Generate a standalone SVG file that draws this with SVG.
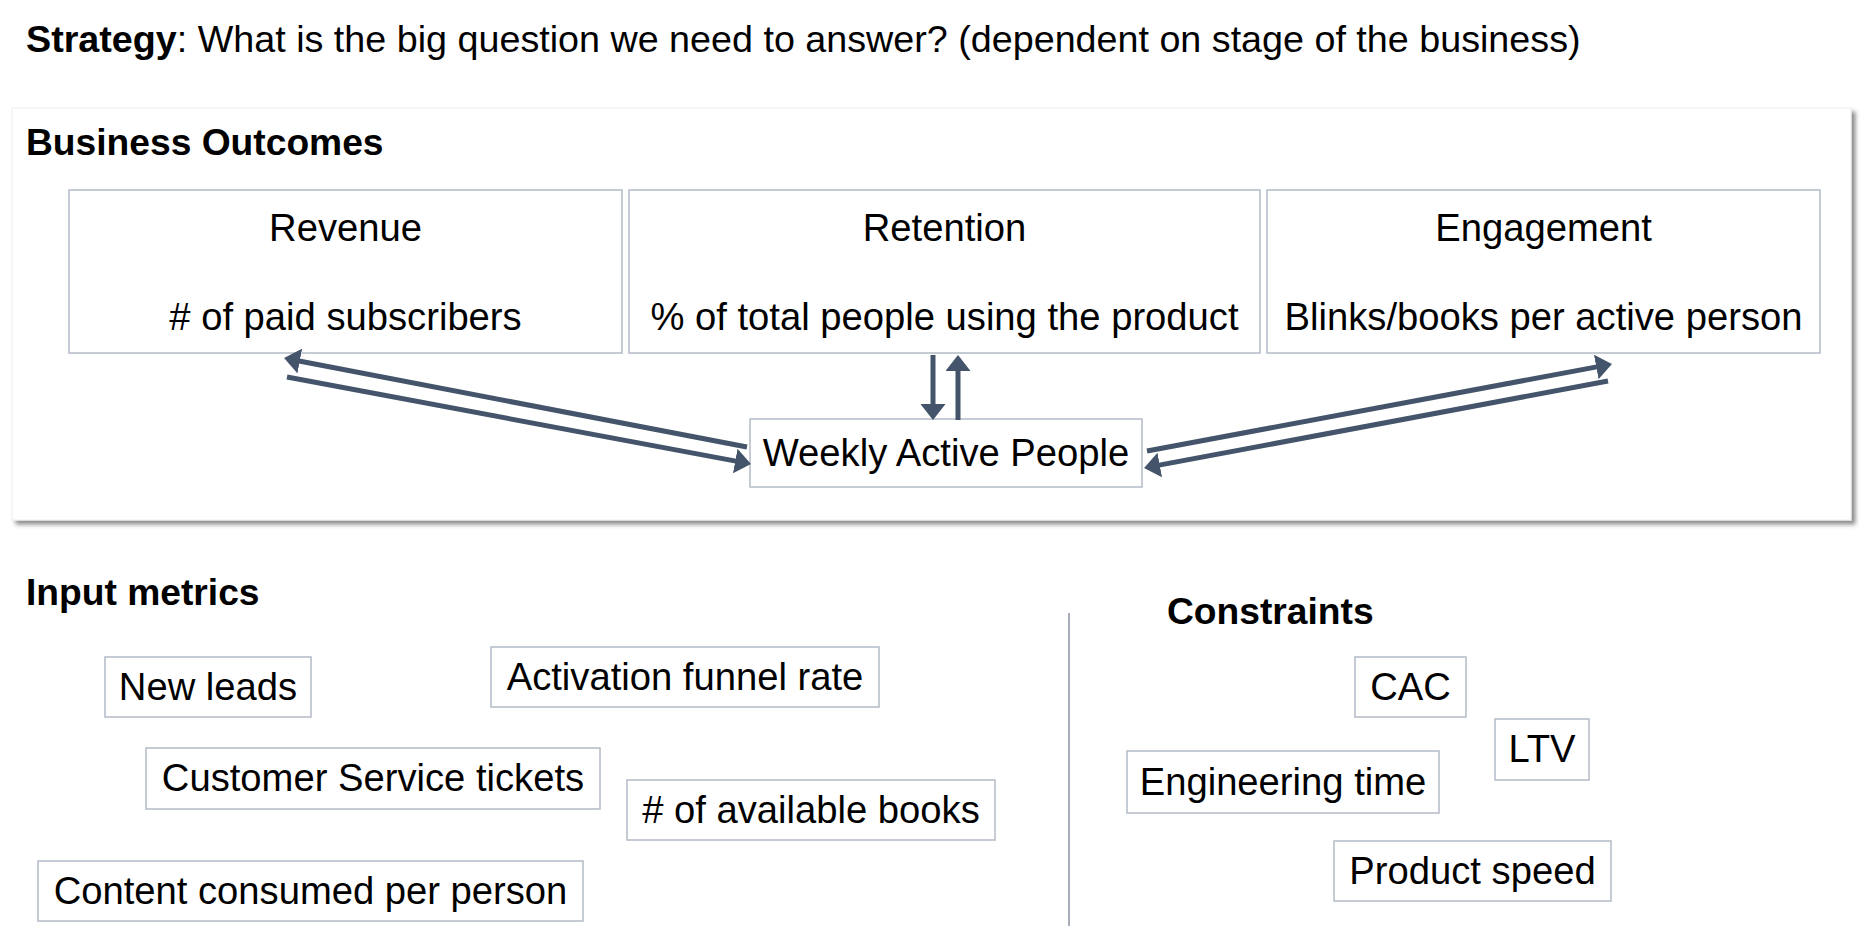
<svg xmlns="http://www.w3.org/2000/svg" width="1866" height="941" viewBox="0 0 1866 941">
<style>
text{font-family:"Liberation Sans",Arial,Helvetica,sans-serif;font-size:38.2px;fill:#000}
.s{font-size:37.7px}
.b{font-weight:bold;font-size:37.2px}
.c{text-anchor:middle}
.box{fill:#fff;stroke:#b3bac6;stroke-width:1.5}
.con{stroke:#44546a;stroke-width:5;fill:none;marker-end:url(#ah)}
</style>
<defs>
<marker id="ah" viewBox="0 0 16 25" refX="2" refY="12.5" markerWidth="16" markerHeight="25" markerUnits="userSpaceOnUse" orient="auto">
<path d="M0,0 L16,12.5 L0,25 z" fill="#44546a"/>
</marker>
<filter id="sh" x="-2%" y="-5%" width="105%" height="112%">
<feDropShadow dx="4" dy="4" stdDeviation="2" flood-color="#000" flood-opacity="0.45"/>
</filter>
</defs>
<rect width="1866" height="941" fill="#fff"/>
<g id="strategy"><text class="s" x="26" y="52"><tspan font-weight="bold">Strategy</tspan>: What is the big question we need to answer? (dependent on stage of the business)</text></g>
<g id="business-outcomes">
<rect x="12" y="108" width="1839" height="412" fill="#fff" stroke="#ededed" stroke-width="1" filter="url(#sh)"/>
<text class="b" x="26" y="155">Business Outcomes</text>
</g>
<g id="revenue"><rect class="box" x="69" y="190" width="553" height="163"/><text class="c" x="345.5" y="241">Revenue</text><text class="c" x="345.5" y="330"># of paid subscribers</text></g>
<g id="retention"><rect class="box" x="629" y="190" width="631" height="163"/><text class="c" x="944.5" y="241">Retention</text><text class="c" x="944.5" y="330">% of total people using the product</text></g>
<g id="engagement"><rect class="box" x="1267" y="190" width="553" height="163"/><text class="c" x="1543.5" y="241">Engagement</text><text class="c" x="1543.5" y="330">Blinks/books per active person</text></g>
<g id="wap"><rect class="box" x="750" y="419" width="392" height="68"/><text class="c" x="946" y="466">Weekly Active People</text></g>
<g id="connectors">
<line class="con" x1="747" y1="447" x2="297.8" y2="360.7"/>
<line class="con" x1="287" y1="377" x2="737.2" y2="461.4"/>
<line class="con" x1="1147" y1="451" x2="1598.2" y2="366.6"/>
<line class="con" x1="1608" y1="381" x2="1157.8" y2="465.4"/>
<line class="con" x1="933" y1="355" x2="933" y2="406"/>
<line class="con" x1="958" y1="420" x2="958" y2="369"/>
</g>
<g id="input-metrics"><text class="b" x="26" y="605">Input metrics</text></g>
<g id="new-leads"><rect class="box" x="105" y="657" width="206" height="60"/><text class="c" x="208" y="700">New leads</text></g>
<g id="activation"><rect class="box" x="491" y="647" width="388" height="60"/><text class="c" x="685" y="690">Activation funnel rate</text></g>
<g id="cs-tickets"><rect class="box" x="146" y="748" width="454" height="61"/><text class="c" x="373" y="791">Customer Service tickets</text></g>
<g id="books"><rect class="box" x="627" y="780" width="368" height="60"/><text class="c" x="811" y="823"># of available books</text></g>
<g id="content"><rect class="box" x="38" y="861" width="545" height="60"/><text class="c" x="310.5" y="904">Content consumed per person</text></g>
<g id="divider"><line x1="1069" y1="613" x2="1069" y2="926" stroke="#8a93a3" stroke-width="1.5"/></g>
<g id="constraints"><text class="b" x="1167" y="624">Constraints</text></g>
<g id="cac"><rect class="box" x="1355" y="657" width="111" height="60"/><text class="c" x="1410.5" y="700">CAC</text></g>
<g id="ltv"><rect class="box" x="1495" y="719" width="94" height="61"/><text class="c" x="1542" y="762">LTV</text></g>
<g id="eng-time"><rect class="box" x="1127" y="751" width="312" height="62"/><text class="c" x="1283" y="795">Engineering time</text></g>
<g id="product-speed"><rect class="box" x="1334" y="841" width="277" height="60"/><text class="c" x="1472.5" y="884">Product speed</text></g>
</svg>
